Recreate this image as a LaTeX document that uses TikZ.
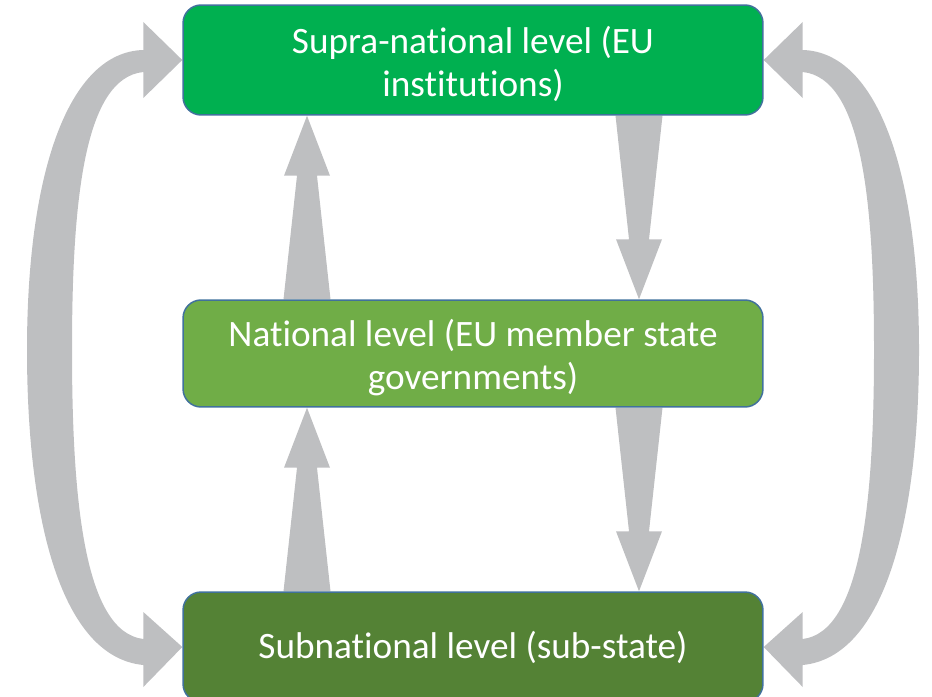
\documentclass[tikz,border=0pt]{standalone}
\usepackage{fontspec}
\setmainfont{Carlito}[Ligatures=NoCommon]
\usetikzlibrary{calc, backgrounds}
\definecolor{supragreen}{RGB}{0, 176, 80}
\definecolor{natgreen}{RGB}{112, 173, 71}
\definecolor{subgreen}{RGB}{84, 130, 53}
\definecolor{boxline}{RGB}{65, 113, 156}
\definecolor{flowgray}{RGB}{190, 191, 193}

% tapered block arrow from #1 (tail) to #2 (tip)
\newcommand{\flowarrow}[2]{%
  \coordinate (fa-tail) at (#1);
  \coordinate (fa-tip) at (#2);
  \coordinate (fa-neck) at ($(fa-tip)!1.2cm!(fa-tail)$);
  \fill[flow] ($(fa-tail)!0.47cm!90:(fa-tip)$) -- ($(fa-neck)!0.2cm!90:(fa-tip)$)
    -- ($(fa-neck)!0.46cm!90:(fa-tip)$) -- (fa-tip)
    -- ($(fa-neck)!0.46cm!-90:(fa-tip)$) -- ($(fa-neck)!0.2cm!-90:(fa-tip)$)
    -- ($(fa-tail)!0.47cm!-90:(fa-tip)$) -- cycle;
}

\begin{document}
\begin{tikzpicture}[
    x=0.02cm, y=-0.02cm,
    level/.style={rectangle, draw=boxline, line width=0.85pt, rounded corners=0.36cm, minimum width=11.6cm, text width=11cm, inner sep=0pt, align=flush center, text=white, font=\fontsize{21.2}{24.8}\selectfont},
    twoline/.style={execute at begin node={\rule{0pt}{20pt}}},
    flow/.style={fill=flowgray}
]
\useasboundingbox (0,0) rectangle (932,696);

% Levels
\node[level, twoline, fill=supragreen, minimum height=2.2cm] (supra) at (473,60) {Supra-national level (EU\\institutions)};
\node[level, twoline, fill=natgreen, minimum height=2.14cm] (nat) at (473,353.5) {National level (EU member state\\governments)};
\node[level, fill=subgreen, minimum height=2.2cm] (sub) at (473,647) {Subnational level (sub-state)};

\coordinate (upx) at (307,0);
\coordinate (downx) at (639,0);

\begin{scope}[on background layer]
% Straight arrows between neighbouring levels
\flowarrow{nat.north -| upx}{supra.south -| upx}
\flowarrow{supra.south -| downx}{nat.north -| downx}
\flowarrow{sub.north -| upx}{nat.south -| upx}
\flowarrow{nat.south -| downx}{sub.north -| downx}

% Curved two-way arrow, left
\fill[flow] (supra.west) -- ++(-39,-38) -- ++(0,28)
  .. controls +(-74,2) and +(0,-180) .. (27,350)
  .. controls +(0,170) and +(-82,-8) .. ($(sub.west)+(-39,18)$)
  -- ++(0,22) -- (sub.west) -- ++(-39,-35) -- ++(0,27)
  .. controls +(-59,-7) and +(0,150) .. (72,350)
  .. controls +(0,-150) and +(-59,6) .. ($(supra.west)+(-39,12)$)
  -- ++(0,26) -- cycle;

% Curved two-way arrow, right
\fill[flow] (supra.east) -- ++(39,-38) -- ++(0,28)
  .. controls +(74,2) and +(0,-180) .. (919,350)
  .. controls +(0,170) and +(82,-8) .. ($(sub.east)+(39,18)$)
  -- ++(0,22) -- (sub.east) -- ++(39,-35) -- ++(0,27)
  .. controls +(59,-7) and +(0,150) .. (874,350)
  .. controls +(0,-150) and +(59,6) .. ($(supra.east)+(39,12)$)
  -- ++(0,26) -- cycle;
\end{scope}

\end{tikzpicture}
\end{document}
